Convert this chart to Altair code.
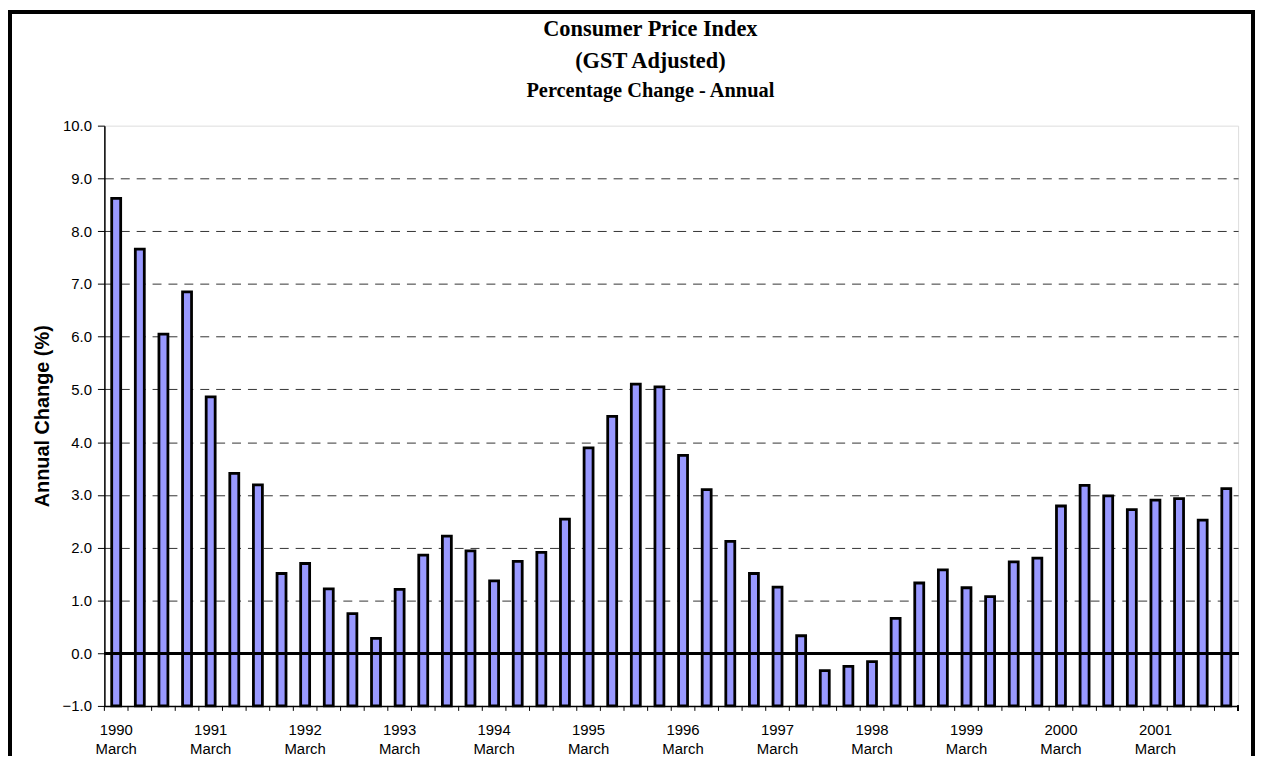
import altair as alt
import pandas as pd

# ---- data ----
years = ["1990", "1991", "1992", "1993", "1994", "1995",
         "1996", "1997", "1998", "1999", "2000", "2001"]
quarters = ["March", "June", "September", "December"]
annual_change = [
    8.62, 7.66, 6.05, 6.85,
    4.86, 3.41, 3.19, 1.51,
    1.70, 1.22, 0.75, 0.28,
    1.21, 1.86, 2.22, 1.94,
    1.37, 1.74, 1.91, 2.54,
    3.89, 4.49, 5.10, 5.05,
    3.75, 3.10, 2.12, 1.51,
    1.25, 0.33, -0.33, -0.25,
    -0.16, 0.66, 1.33, 1.58,
    1.24, 1.07, 1.73, 1.80,
    2.79, 3.18, 2.98, 2.72,
    2.90, 2.93, 2.52, 3.12,
]
y_ticks = [-1, 0, 1, 2, 3, 4, 5, 6, 7, 8, 9, 10]

periods = [f"{y}|{q}" for y in years for q in quarters]
df = pd.DataFrame({"period": periods, "value": annual_change})

W, H = 1141, 584
P_IN = 0.62
STEP = W / len(periods)

x_enc = alt.X(
    "period:N",
    sort=None,
    scale=alt.Scale(paddingInner=P_IN, paddingOuter=P_IN / 2),
    axis=alt.Axis(
        title=None,
        labelExpr="split(datum.value,'|')[1] == 'March' ? split(datum.value,'|') : ''",
        labelAngle=0,
        labelBaseline="top",
        labelPadding=17,
        labelLineHeight=18.5,
        labelFont="Liberation Sans",
        labelFontSize=15,
        labelColor="black",
        labelOverlap=False,
        ticks=False,
        tickSize=0,
        domainColor="black",
        domainWidth=1.5,
        grid=False,
    ),
)

y_enc = alt.Y(
    "value:Q",
    scale=alt.Scale(domain=[-1, 10], nice=False, zero=False),
    axis=alt.Axis(
        values=y_ticks,
        format=".1f",
        title="Annual Change (%)",
        titleFont="Liberation Sans",
        titleFontSize=20,
        titleFontWeight="bold",
        titleColor="black",
        titlePadding=10,
        labelFont="Liberation Sans",
        labelFontSize=15,
        labelColor="black",
        labelPadding=6,
        tickSize=7,
        tickColor="black",
        domainColor="black",
        domainWidth=1.5,
        grid=True,
        gridColor="#333333",
        gridDash=[9, 7],
        gridWidth=1,
        gridOpacity={"condition": {"test": "datum.value >= 10 || datum.value <= -1", "value": 0}, "value": 1},
    ),
)

base = alt.Chart(df)

bars = base.mark_bar(
    fill="#9999ff", stroke="black", strokeWidth=2.8
).encode(x=x_enc, y=y_enc, y2=alt.datum(-1))

zero_line = base.mark_rule(color="black", strokeWidth=2.5).encode(
    y=alt.datum(0), x=alt.value(0), x2=alt.value(W)
)

ticks = base.mark_rule(color="black", strokeWidth=1, xOffset=-STEP * P_IN / 2).encode(
    x=alt.X("period:N", sort=None, bandPosition=0),
    y=alt.value(H),
    y2=alt.value(H + 5),
)

end_tick = base.mark_rule(color="black", strokeWidth=1).encode(
    x=alt.value(W), y=alt.value(H), y2=alt.value(H + 5)
)

frame = base.mark_rect(filled=False, stroke="black", strokeWidth=3.5).encode(
    x=alt.value(-95.5), x2=alt.value(1253 - 97), y=alt.value(-114.5), y2=alt.value(H + 80)
)

chart = alt.layer(bars, zero_line, ticks, end_tick, frame).properties(
    width=W,
    height=H,
    autosize=alt.AutoSizeParams(type="none"),
    padding={"left": 97, "top": 116, "right": 17, "bottom": 48},
    title=alt.TitleParams(
        text=["Consumer Price Index", "(GST Adjusted)"],
        subtitle="Percentage Change - Annual",
        font="Liberation Serif",
        fontSize=22.5,
        fontWeight="bold",
        color="black",
        lineHeight=32,
        subtitleFont="Liberation Serif",
        subtitleFontSize=20.5,
        subtitleFontWeight="bold",
        subtitleColor="black",
        subtitlePadding=9,
        anchor="middle",
        dx=-21,
        offset=-92,
    ),
).configure_view(stroke="#808080", strokeWidth=1).configure(background="white")

chart.save("out.html", embed_options={"renderer": "svg", "actions": False})
